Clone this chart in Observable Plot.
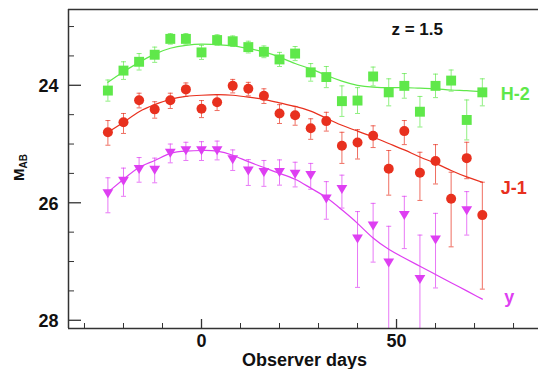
<!DOCTYPE html>
<html><head><meta charset="utf-8">
<script src="https://cdn.jsdelivr.net/npm/d3@7"></script>
<script src="https://cdn.jsdelivr.net/npm/@observablehq/plot@0.6"></script>
<style>html,body{margin:0;padding:0;background:#fff}</style>
</head><body><div id="chart"></div>
<script>
// ---- data ----
const days = [-24,-20,-16,-12,-8,-4,0,4,8,12,16,20,24,28,32,36,40,44,48,52,56,60,64,68,72];

const h2Mag = [24.09,23.75,23.60,23.48,23.21,23.21,23.44,23.23,23.25,23.35,23.43,23.56,23.46,23.78,23.86,24.27,24.26,23.85,24.12,24.01,24.45,24.01,23.92,24.59,24.12];
const h2Err = [0.18,0.15,0.14,0.13,0.09,0.09,0.12,0.09,0.09,0.10,0.10,0.12,0.12,0.15,0.18,0.26,0.22,0.16,0.23,0.21,0.26,0.20,0.18,0.34,0.23];

const j1Mag = [24.80,24.63,24.255,24.41,24.255,24.07,24.40,24.29,24.01,24.06,24.18,24.48,24.51,24.73,24.61,25.03,24.975,24.86,25.42,24.78,25.49,25.29,25.93,25.24,26.21];
const j1Up   = [0.20,0.15,0.12,0.13,0.12,0.11,0.14,0.13,0.11,0.11,0.12,0.15,0.15,0.16,0.15,0.23,0.22,0.17,0.31,0.18,0.35,0.28,0.45,0.27,0.56];
const j1Down = [0.22,0.19,0.13,0.15,0.14,0.12,0.15,0.14,0.12,0.12,0.13,0.17,0.17,0.19,0.17,0.30,0.28,0.20,0.45,0.23,0.47,0.39,0.82,0.35,1.26];

const yDays = [-24,-20,-16,-12,-8,-4,0,4,8,12,16,20,24,28,32,36,40,44,48,52,56,60,68];
const yMag  = [25.82,25.61,25.41,25.42,25.13,25.09,25.09,25.09,25.24,25.435,25.46,25.46,25.49,25.51,25.91,25.75,26.59,26.37,27.00,26.19,27.28,26.61,26.11];
const yUp   = [0.245,0.20,0.18,0.18,0.13,0.12,0.13,0.14,0.14,0.17,0.18,0.19,0.18,0.18,0.27,0.22,0.44,0.36,0.60,0.30,0.73,0.43,0.30];
const yDown = [0.35,0.28,0.24,0.24,0.19,0.19,0.19,0.18,0.21,0.27,0.26,0.24,0.24,0.26,0.37,0.34,0.85,0.64,1.50,0.59,1.50,0.84,0.44];

// fitted light curves (sampled at the same days)
const h2Fit = [23.95,23.77,23.61,23.47,23.37,23.32,23.30,23.31,23.33,23.375,23.43,23.52,23.63,23.72,23.83,23.93,24.00,24.03,24.04,24.04,24.05,24.06,24.08,24.09,24.11];
const j1Fit = [24.80,24.63,24.45,24.33,24.24,24.19,24.17,24.16,24.17,24.20,24.24,24.30,24.36,24.44,24.56,24.68,24.78,24.88,24.99,25.10,25.22,25.33,25.45,25.56,25.65];
const yFit  = [25.82,25.60,25.40,25.28,25.16,25.12,25.11,25.12,25.19,25.30,25.40,25.50,25.60,25.75,25.91,26.12,26.35,26.60,26.79,26.94,27.08,27.22,27.36,27.50,27.64];

const seriesNames = ["H-2", "J-1", "y"];
const colors = ["#5fe84a", "#e8301e", "#de3ff2"];
const redshiftLabel = "z = 1.5";
const xLabel = "Observer days";

const xDomain = [-34.1, 86.4];
const yDomain = [22.71, 28.14];
const xMajorTicks = [0, 50];
const xMinorTicks = [-30,-20,-10,10,20,30,40,60,70,80];
const yMajorTicks = [24, 26, 28];
const yMinorTicks = [23,23.5,24.5,25,25.5,26.5,27,27.5];

// ---- layout ----
const W = 538, Hh = 369, mL = 68, mR = 0, mT = 9, mB = 41;
const frameW = W - mL - mR, frameH = Hh - mT - mB;
// tick lengths in pixels, converted to scale units along the frame edges
const perPxX = (xDomain[1] - xDomain[0]) / frameW;
const perPxY = (yDomain[1] - yDomain[0]) / frameH;

// ---- build tables ----
function pts(xs, ys, up, down, s) {
  return xs.map((d, i) => ({day: d, mag: ys[i], lo: ys[i] - up[i], hi: ys[i] + down[i], s}));
}
const H = pts(days, h2Mag, h2Err, h2Err, seriesNames[0]);
const J = pts(days, j1Mag, j1Up, j1Down, seriesNames[1]);
const Y = pts(yDays, yMag, yUp, yDown, seriesNames[2]);
const fit = (ys, s) => days.map((d, i) => ({day: d, mag: ys[i], s}));
const HF = fit(h2Fit, seriesNames[0]), JF = fit(j1Fit, seriesNames[1]), YF = fit(yFit, seriesNames[2]);

const cap = {draw(ctx) { ctx.moveTo(-2.5, 0); ctx.lineTo(2.5, 0); }};
const triDown = {draw(ctx, size) {
  const r = Math.sqrt(size / Math.PI);
  const w = r * 1.08;
  ctx.moveTo(-w, -0.6 * r); ctx.lineTo(w, -0.6 * r); ctx.lineTo(0, 1.2 * r); ctx.closePath();
}};

const axisColor = "#333";
const font = "'Liberation Sans', Arial, Helvetica, sans-serif";

function errMarks(data, c) {
  return [
    Plot.ruleX(data, {x: "day", y1: "lo", y2: "hi", stroke: c, strokeOpacity: 0.7, strokeWidth: 1, clip: true}),
    Plot.dot(data, {x: "day", y: "lo", symbol: cap, stroke: c, strokeOpacity: 0.7, fill: "none", strokeWidth: 1, clip: true}),
    Plot.dot(data, {x: "day", y: "hi", symbol: cap, stroke: c, strokeOpacity: 0.7, fill: "none", strokeWidth: 1, clip: true})
  ];
}
function yTicks(values, px, sw) {
  return Plot.ruleY(values, {y: d => d, x1: () => xDomain[0], x2: () => xDomain[0] + px * perPxX, stroke: axisColor, strokeWidth: sw});
}
function xTicks(values, px, sw) {
  return Plot.ruleX(values, {x: d => d, y1: () => yDomain[1], y2: () => yDomain[1] - px * perPxY, stroke: axisColor, strokeWidth: sw});
}

const last = (arr) => arr[arr.length - 1];
const fmt = d3.format("d");

const chart = Plot.plot({
  width: W, height: Hh,
  marginLeft: mL, marginRight: mR, marginTop: mT, marginBottom: mB,
  style: {fontFamily: font, fontSize: "18px", fontWeight: "bold", background: "#fff", color: "#111"},
  x: {domain: xDomain},
  y: {domain: yDomain, reverse: true},
  marks: [
    // error bars
    ...errMarks(H, colors[0]),
    ...errMarks(J, colors[1]),
    ...errMarks(Y, colors[2]),
    // fitted curves
    Plot.line(HF, {x: "day", y: "mag", stroke: colors[0], strokeWidth: 1.2, curve: "natural"}),
    Plot.line(JF, {x: "day", y: "mag", stroke: colors[1], strokeWidth: 1.2, curve: "natural"}),
    Plot.line(YF, {x: "day", y: "mag", stroke: colors[2], strokeWidth: 1.2, curve: "natural"}),
    // markers
    Plot.dot(H, {x: "day", y: "mag", symbol: "square", r: 5.6, fill: colors[0], stroke: "none"}),
    Plot.dot(J, {x: "day", y: "mag", symbol: "circle", r: 5, fill: colors[1], stroke: "none"}),
    Plot.dot(Y, {x: "day", y: "mag", symbol: triDown, r: 5, fill: colors[2], stroke: "none", clip: true}),
    // frame (left, top, bottom)
    Plot.ruleY([yDomain[0]], {stroke: axisColor, strokeWidth: 1.5}),
    Plot.ruleY([yDomain[1]], {stroke: axisColor, strokeWidth: 1.5}),
    Plot.ruleX([xDomain[0]], {stroke: axisColor, strokeWidth: 1.5}),
    // inward ticks
    yTicks(yMajorTicks, 13, 1.3),
    yTicks(yMinorTicks, 6, 1),
    xTicks(xMajorTicks, 9, 1.3),
    xTicks(xMinorTicks, 5, 1),
    // tick labels
    Plot.axisY({ticks: yMajorTicks, tickFormat: fmt, anchor: "left", tickSize: 0, tickPadding: 10, label: null, fill: "#111", dy: 1}),
    Plot.axisX({ticks: xMajorTicks, tickFormat: fmt, anchor: "bottom", tickSize: 0, tickPadding: 6, label: null, fill: "#111"}),
    // series labels at curve ends
    Plot.text([seriesNames[0]], {x: () => last(days), y: () => last(h2Fit), text: d => d, textAnchor: "start", dx: 18.3, dy: 2.5, fill: colors[0], fontSize: 18}),
    Plot.text([seriesNames[1]], {x: () => last(days), y: () => last(j1Fit), text: d => d, textAnchor: "start", dx: 18.3, dy: 5.8, fill: colors[1], fontSize: 18}),
    Plot.text([seriesNames[2]], {x: () => last(days), y: () => last(yFit), text: d => d, textAnchor: "start", dx: 22, dy: -2, fill: colors[2], fontSize: 18}),
    // annotations
    Plot.text([redshiftLabel], {frameAnchor: "top", text: d => d, dx: 113.7, dy: 25.3, lineAnchor: "bottom", fill: "#111", fontSize: 17}),
    Plot.text([xLabel], {frameAnchor: "bottom", text: d => d, dx: 1, dy: 37.5, lineAnchor: "bottom", fill: "#111", fontSize: 18}),
    Plot.text(["M"], {frameAnchor: "left", text: d => d, rotate: -90, textAnchor: "start", lineAnchor: "bottom", dx: -44.5, dy: 12, fill: "#111", fontSize: 15}),
    Plot.text(["AB"], {frameAnchor: "left", text: d => d, rotate: -90, textAnchor: "start", lineAnchor: "bottom", dx: -41.5, dy: -0.5, fill: "#111", fontSize: 10})
  ]
});
document.getElementById("chart").appendChild(chart);
</script>
</body></html>
